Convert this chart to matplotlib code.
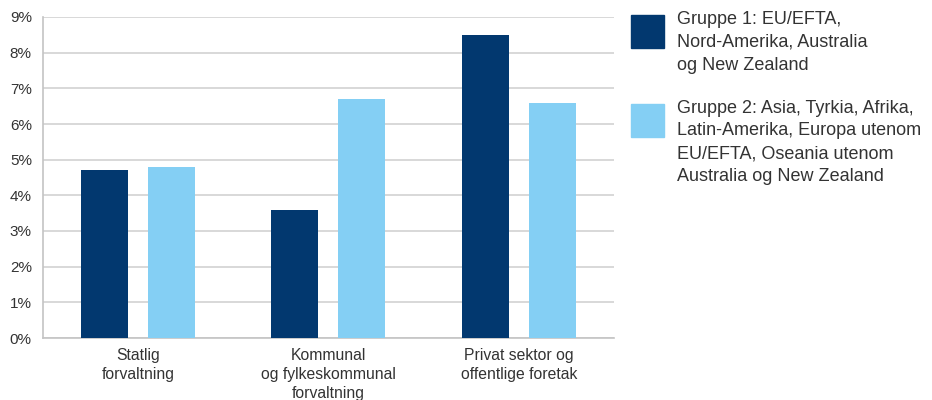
import numpy as np
import matplotlib.pyplot as plt
from matplotlib.patches import Rectangle
from matplotlib.ticker import FuncFormatter

plt.rcParams['font.family'] = ['Liberation Sans', 'DejaVu Sans']

sektorer = ['Statlig\nforvaltning',
            'Kommunal\nog fylkeskommunal\nforvaltning',
            'Privat sektor og\noffentlige foretak']
gruppe1 = [4.7, 3.6, 8.5]
gruppe2 = [4.8, 6.7, 6.6]
navn1 = 'Gruppe 1: EU/EFTA,\nNord-Amerika, Australia\nog New Zealand'
navn2 = ('Gruppe 2: Asia, Tyrkia, Afrika,\nLatin-Amerika, Europa utenom\n'
         'EU/EFTA, Oseania utenom\nAustralia og New Zealand')

c1 = '#02386f'
c2 = '#84cff4'
tekst = '#333333'
grid = '#d2d2d2'

fig = plt.figure(figsize=(9.32, 4.0), dpi=100)
ax = fig.add_axes([0.0461, 0.155, 0.6127, 0.8025])

x = np.arange(len(sektorer))
w = 0.247
ax.bar(x - 0.176, gruppe1, w, color=c1, zorder=3)
ax.bar(x + 0.176, gruppe2, w, color=c2, zorder=3)

ax.set_xlim(-0.5, 2.5)
ax.set_ylim(0, 9)
ax.set_yticks(range(0, 10))
ax.yaxis.set_major_formatter(FuncFormatter(lambda v, p: '%d%%' % v))
ax.set_xticks(x)
ax.set_xticklabels(sektorer, fontsize=11.3, color=tekst, linespacing=1.35)
ax.tick_params(axis='y', labelsize=11, labelcolor=tekst, length=0, pad=8)
ax.tick_params(axis='x', length=0, pad=7)
ax.grid(axis='y', color=grid, lw=1.2, zorder=0)
for s in ['top', 'right']:
    ax.spines[s].set_visible(False)
for s in ['left', 'bottom']:
    ax.spines[s].set_color('#c4c4c4')
    ax.spines[s].set_linewidth(1.2)

# forklaring til høyre
fig.add_artist(Rectangle((0.677, 0.88), 0.0354, 0.0825, color=c1,
                         transform=fig.transFigure))
fig.add_artist(Rectangle((0.677, 0.6575), 0.0354, 0.0825, color=c2,
                         transform=fig.transFigure))
fig.text(0.7264, 0.973, navn1, va='top', ha='left', fontsize=13,
         color=tekst, linespacing=1.45)
fig.text(0.7264, 0.751, navn2, va='top', ha='left', fontsize=13,
         color=tekst, linespacing=1.45)

fig.savefig('out.png', dpi=100)
